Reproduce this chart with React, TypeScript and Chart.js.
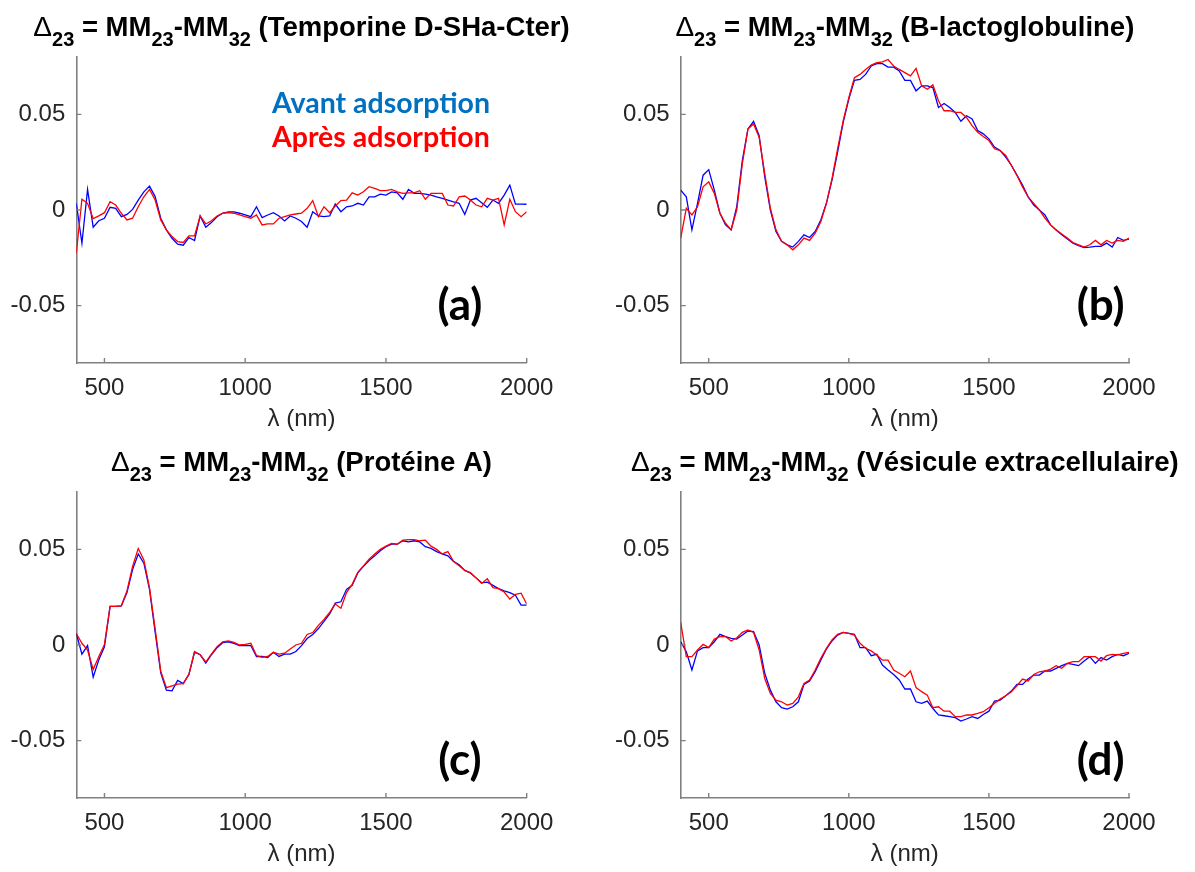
import React, { useEffect, useRef } from 'react';
import { Chart, registerables } from 'chart.js';

Chart.register(...registerables);

// ---------------- DATA ----------------
const WAVELENGTHS = [
  400, 420, 440, 460, 480, 500, 520, 540, 560, 580,
  600, 620, 640, 660, 680, 700, 720, 740, 760, 780,
  800, 820, 840, 860, 880, 900, 920, 940, 960, 980,
  1000, 1020, 1040, 1060, 1080, 1100, 1120, 1140, 1160, 1180,
  1200, 1220, 1240, 1260, 1280, 1300, 1320, 1340, 1360, 1380,
  1400, 1420, 1440, 1460, 1480, 1500, 1520, 1540, 1560, 1580,
  1600, 1620, 1640, 1660, 1680, 1700, 1720, 1740, 1760, 1780,
  1800, 1820, 1840, 1860, 1880, 1900, 1920, 1940, 1960, 1980,
  2000,
];

// (a) Temporine D-SHa-Cter
const A_AVANT = [
  0.0035, -0.0174, 0.0108, -0.009, -0.0056, -0.0043, 0.0014, 0.0009, -0.0035, -0.0023,
  0.0003, 0.0052, 0.0095, 0.0125, 0.007, -0.0043, -0.0104, -0.0148, -0.0179, -0.0184,
  -0.0144, -0.016, -0.0031, -0.009, -0.0066, -0.0035, -0.0017, -0.001, -0.001, -0.0017,
  -0.0026, -0.0035, 0.0017, -0.004, -0.0026, -0.0014, -0.0031, -0.0057, -0.0031, -0.0043,
  -0.006, -0.009, -0.0009, -0.0031, -0.0035, -0.0031, 0.0031, -0.0009, 0.0017, 0.0021,
  0.0035, 0.0026, 0.0069, 0.0069, 0.0083, 0.0078, 0.0095, 0.009, 0.0056, 0.0108,
  0.0087, 0.0087, 0.0083, 0.0078, 0.0069, 0.0061, 0.0052, 0.0043, 0.0035, -0.0023,
  0.0052, 0.0061, 0.0038, 0.0014, 0.0052, 0.0035, 0.0078, 0.013, 0.0031, 0.0031,
  0.003,
];
const A_APRES = [
  -0.0226, 0.0056, 0.0035, -0.0045, -0.0031, -0.0014, 0.0043, 0.0026, -0.0017, -0.0052,
  -0.0043, 0.0017, 0.0069, 0.0108, 0.0052, -0.0052, -0.0104, -0.0139, -0.0165, -0.017,
  -0.0135, -0.0135, -0.0031, -0.0073, -0.0056, -0.0031, -0.0017, -0.0014, -0.0017, -0.0026,
  -0.0035, -0.0043, -0.0026, -0.0078, -0.0073, -0.0073, -0.0043, -0.0035, -0.0026, -0.0021,
  -0.0017, 0.0009, 0.0049, -0.0035, 0.0017, -0.0014, 0.0021, 0.0049, 0.0052, 0.009,
  0.0078, 0.0095, 0.0122, 0.0113, 0.0101, 0.0101, 0.0108, 0.0095, 0.0087, 0.009,
  0.009, 0.0101, 0.0056, 0.0087, 0.0087, 0.0087, 0.0026, 0.0021, 0.0069, 0.0073,
  0.0052, 0.0026, 0.0017, 0.0061, 0.0052, 0.0061, -0.0078, 0.0056, -0.0009, -0.0035,
  -0.0009,
];

// (b) B-lactoglobuline
const B_AVANT = [
  0.0104, 0.0069, -0.0104, 0.0035, 0.0182, 0.0211, 0.0104, -0.0017, -0.0078, -0.0104,
  0.0017, 0.026, 0.0424, 0.0464, 0.0389, 0.0173, 0, -0.0112, -0.0164, -0.0182,
  -0.0194, -0.0164, -0.013, -0.0144, -0.0112, -0.0052, 0.0035, 0.0156, 0.0303, 0.0458,
  0.058, 0.0678, 0.0683, 0.0709, 0.0753, 0.0765, 0.0765, 0.0747, 0.0747, 0.0727,
  0.0678, 0.0678, 0.0623, 0.0649, 0.0649, 0.064, 0.0536, 0.0557, 0.0536, 0.051,
  0.0464, 0.0493, 0.0476, 0.0415, 0.0398, 0.0372, 0.0329, 0.0311, 0.0277, 0.0234,
  0.0182, 0.013, 0.0069, 0.0026, 0, -0.0026, -0.0078, -0.0104, -0.013, -0.0152,
  -0.0173, -0.0187, -0.0196, -0.0194, -0.019, -0.019, -0.0173, -0.0194, -0.0144, -0.0159,
  -0.0152,
];
const B_APRES = [
  -0.0147, 0.0009, -0.0026, 0.0017, 0.0121, 0.0147, 0.0087, -0.0017, -0.0069, -0.0104,
  0, 0.0242, 0.0424, 0.045, 0.038, 0.019, 0.0009, -0.0104, -0.0164, -0.0182,
  -0.0208, -0.0182, -0.0147, -0.0159, -0.0121, -0.0061, 0.0035, 0.0164, 0.032, 0.0467,
  0.0588, 0.0692, 0.0709, 0.0735, 0.0758, 0.077, 0.0775, 0.0787, 0.0753, 0.0735,
  0.0718, 0.0701, 0.074, 0.0649, 0.0631, 0.0654, 0.0571, 0.0519, 0.0519, 0.051,
  0.051, 0.0484, 0.0441, 0.0407, 0.0384, 0.0363, 0.032, 0.0311, 0.0285, 0.0234,
  0.0182, 0.0121, 0.0069, 0.0035, 0, -0.0043, -0.0078, -0.0104, -0.0125, -0.0147,
  -0.017, -0.0182, -0.0194, -0.0182, -0.0159, -0.0182, -0.0159, -0.0173, -0.0159, -0.0164,
  -0.0147,
];

// (c) Protéine A
const C_AVANT = [
  0.006, -0.0048, -0.0003, -0.0168, -0.0077, -0.0009, 0.0202, 0.0202, 0.0205, 0.0274,
  0.0394, 0.0476, 0.0428, 0.0291, 0.0068, -0.0146, -0.0236, -0.024, -0.0185, -0.0202,
  -0.0154, -0.0038, -0.0051, -0.0094, -0.0051, -0.0014, 0.0012, 0.0017, 0.0009, -0.0003,
  -0.0003, -0.0003, -0.006, -0.006, -0.0065, -0.0038, -0.006, -0.0048, -0.0048, -0.0034,
  -0.0003, 0.0034, 0.0055, 0.0086, 0.0123, 0.0163, 0.0219, 0.0226, 0.0291, 0.0312,
  0.0377, 0.0411, 0.0442, 0.0466, 0.0493, 0.0514, 0.0527, 0.0527, 0.0545, 0.0539,
  0.0545, 0.0539, 0.0514, 0.0505, 0.0488, 0.0476, 0.0466, 0.0437, 0.042, 0.039,
  0.0377, 0.0351, 0.0325, 0.0329, 0.0312, 0.0295, 0.0283, 0.0274, 0.026, 0.0209,
  0.0209,
];
const C_APRES = [
  0.006, 0.0009, -0.0026, -0.0128, -0.006, 0.0003, 0.0202, 0.0202, 0.0205, 0.0283,
  0.0411, 0.0505, 0.0445, 0.03, 0.0086, -0.0137, -0.0223, -0.0214, -0.0205, -0.0202,
  -0.0154, -0.0034, -0.0051, -0.0089, -0.0048, -0.0009, 0.0017, 0.0021, 0.0014, 0,
  0.0003, 0.0009, -0.0055, -0.0065, -0.006, -0.0038, -0.0048, -0.0043, -0.0021, 0,
  0.0009, 0.0055, 0.0065, 0.0103, 0.0134, 0.0171, 0.0214, 0.0192, 0.0274, 0.0317,
  0.038, 0.0414, 0.0449, 0.0476, 0.05, 0.0517, 0.0531, 0.0527, 0.0548, 0.0551,
  0.0551, 0.0545, 0.0548, 0.0517, 0.05, 0.0476, 0.0488, 0.0437, 0.0414, 0.039,
  0.0377, 0.0351, 0.0322, 0.0346, 0.03, 0.0295, 0.0277, 0.024, 0.0265, 0.0271,
  0.0214,
];

// (d) Vésicule extracellulaire
const D_AVANT = [
  0.0017, -0.0035, -0.0131, -0.0031, -0.0014, -0.0014, 0.0017, 0.0056, 0.0044, 0.0035,
  0.0031, 0.0052, 0.0073, 0.007, 0, -0.0148, -0.0236, -0.0297, -0.0328, -0.0335,
  -0.0323, -0.0297, -0.0206, -0.0188, -0.014, -0.0079, -0.0021, 0.0021, 0.0052, 0.0066,
  0.0061, 0.0056, -0.0014, -0.0014, -0.0056, -0.0049, -0.0105, -0.0131, -0.0154, -0.0183,
  -0.023, -0.023, -0.0297, -0.0305, -0.0293, -0.0332, -0.0366, -0.037, -0.0375, -0.038,
  -0.0398, -0.0387, -0.0375, -0.0384, -0.0363, -0.0346, -0.0293, -0.0288, -0.0265, -0.0241,
  -0.0206, -0.0206, -0.0178, -0.0157, -0.0157, -0.0136, -0.0136, -0.0122, -0.0108, -0.0096,
  -0.0101, -0.0108, -0.0084, -0.0061, -0.0096, -0.0066, -0.0079, -0.0061, -0.0049, -0.0056,
  -0.0044,
];
const D_APRES = [
  0.0119, -0.0061, -0.0061, -0.0026, 0.0003, -0.0014, 0.0031, 0.0044, 0.0044, 0.0021,
  0.0038, 0.0066, 0.0079, 0.0066, -0.0026, -0.0175, -0.0253, -0.0288, -0.0297, -0.0314,
  -0.0305, -0.0271, -0.0201, -0.0183, -0.0131, -0.007, -0.0017, 0.0026, 0.0056, 0.0066,
  0.0061, 0.0052, 0.0009, -0.0017, -0.0031, -0.0052, -0.0079, -0.0079, -0.0131, -0.0148,
  -0.0166, -0.0136, -0.0223, -0.0244, -0.0262, -0.0328, -0.0323, -0.0346, -0.0346, -0.0375,
  -0.0375, -0.0366, -0.0366, -0.0358, -0.0349, -0.0328, -0.0305, -0.0283, -0.0265, -0.0244,
  -0.0213, -0.0178, -0.0188, -0.0154, -0.014, -0.0136, -0.0126, -0.0108, -0.0122, -0.0096,
  -0.0087, -0.0087, -0.0061, -0.0061, -0.0061, -0.0084, -0.0056, -0.0049, -0.0052, -0.0044,
  -0.0038,
];

const SERIES_LABELS = ['Avant adsorption', 'Après adsorption'];
const SAMPLE_NAMES = ['Temporine D-SHa-Cter', 'B-lactoglobuline', 'Protéine A', 'Vésicule extracellulaire'];
const PANEL_TAGS = ['(a)', '(b)', '(c)', '(d)'];
const X_TICKS = [500, 1000, 1500, 2000];
const Y_TICKS = [-0.05, 0, 0.05];
const X_MIN = 400;
const X_MAX = 2000;
const Y_MIN = -0.08;
const Y_MAX = 0.08;
const X_LABEL = 'λ (nm)';

// ---------------- STYLE ----------------
const BLUE_LINE = '#0000FF';
const RED_LINE = '#FF0000';
const LEGEND_BLUE = '#0070C0';
const LEGEND_RED = '#FF0000';
const AXIS_COLOR = '#808080';
const TEXT_COLOR = '#262626';
const SANS = '"Liberation Sans", Arial, Helvetica, sans-serif';
const CALIBRI_LIKE = 'Lato, "Open Sans", sans-serif';

type Panel = {
  avant: number[];
  apres: number[];
  name: string;
  tag: string;
  left: number;
  top: number;
  w: number;
  h: number;
  area: { l: number; r: number; t: number; b: number };
  tagAt: [number, number];
  legend: boolean;
};

const PANELS: Panel[] = [
  { avant: A_AVANT, apres: A_APRES, name: SAMPLE_NAMES[0], tag: PANEL_TAGS[0], left: 0, top: 0, w: 598, h: 436,
    area: { l: 76.3, r: 526.7, t: 57, b: 363 }, tagAt: [1763, -0.05], legend: true },
  { avant: B_AVANT, apres: B_APRES, name: SAMPLE_NAMES[1], tag: PANEL_TAGS[1], left: 597, top: 0, w: 598, h: 436,
    area: { l: 83.7, r: 532, t: 57, b: 363 }, tagAt: [1899, -0.05], legend: false },
  { avant: C_AVANT, apres: C_APRES, name: SAMPLE_NAMES[2], tag: PANEL_TAGS[2], left: 0, top: 436, w: 598, h: 436,
    area: { l: 76.3, r: 526.7, t: 56, b: 362 }, tagAt: [1763, -0.0607], legend: false },
  { avant: D_AVANT, apres: D_APRES, name: SAMPLE_NAMES[3], tag: PANEL_TAGS[3], left: 597, top: 436, w: 598, h: 436,
    area: { l: 83.7, r: 532, t: 56, b: 362 }, tagAt: [1899, -0.0607], legend: false },
];

const decorPlugin = {
  id: 'decor',
  afterDraw(chart: any, _args: any, opts: any) {
    const { ctx, chartArea: ca, scales } = chart;
    const x = scales.x;
    const y = scales.y;
    ctx.save();

    // inward tick marks (MATLAB style)
    ctx.strokeStyle = AXIS_COLOR;
    ctx.lineWidth = 1.4;
    ctx.beginPath();
    x.ticks.forEach((t: any) => {
      const px = x.getPixelForValue(t.value);
      ctx.moveTo(px, ca.bottom);
      ctx.lineTo(px, ca.bottom - 5);
    });
    y.ticks.forEach((t: any) => {
      const py = y.getPixelForValue(t.value);
      ctx.moveTo(ca.left, py);
      ctx.lineTo(ca.left + 5, py);
    });
    ctx.stroke();

    // title with subscripts
    const parts: [string, string][] = [
      ['Δ', 'delta'], ['23', 'sub'], [' = MM', 'main'], ['23', 'sub'], ['-MM', 'main'], ['32', 'sub'],
      [' (' + opts.name + ')', 'main'],
    ];
    const fontFor = (k: string) =>
      k === 'sub' ? `bold 20px ${SANS}` : k === 'delta' ? `normal 28px ${SANS}` : `bold 27.5px ${SANS}`;
    let total = 0;
    const widths = parts.map(([t, k]) => {
      ctx.font = fontFor(k);
      const w = ctx.measureText(t).width;
      total += w;
      return w;
    });
    let cx = (ca.left + ca.right) / 2 - total / 2;
    const baseY = ca.top - 21;
    ctx.fillStyle = '#000000';
    ctx.textAlign = 'left';
    ctx.textBaseline = 'alphabetic';
    parts.forEach(([t, k], i) => {
      ctx.font = fontFor(k);
      ctx.fillText(t, cx, k === 'sub' ? baseY + 10 : baseY);
      cx += widths[i];
    });

    // x axis label
    ctx.font = `24px ${SANS}`;
    ctx.fillStyle = TEXT_COLOR;
    ctx.textAlign = 'center';
    ctx.textBaseline = 'middle';
    ctx.fillText(X_LABEL, (ca.left + ca.right) / 2, ca.bottom + 56);

    // panel tag
    ctx.font = `bold 44px ${CALIBRI_LIKE}`;
    ctx.fillStyle = '#000000';
    ctx.textAlign = 'center';
    ctx.textBaseline = 'middle';
    ctx.fillText(opts.tag, x.getPixelForValue(opts.tagAt[0]), y.getPixelForValue(opts.tagAt[1]));

    // coloured text legend
    if (opts.legend) {
      const ds = chart.data.datasets;
      ctx.textAlign = 'left';
      ctx.textBaseline = 'alphabetic';
      const lx = x.getPixelForValue(1095);
      const rows: [number, number][] = [[0, 0.0507], [1, 0.0329]];
      ctx.font = `bold 27px ${CALIBRI_LIKE}`;
      const w0 = ctx.measureText(ds[0].label).width;
      const size = (27 * 218) / w0;
      ctx.font = `bold ${size.toFixed(1)}px ${CALIBRI_LIKE}`;
      rows.forEach(([i, v]) => {
        ctx.fillStyle = ds[i].legendTextColor;
        ctx.fillText(ds[i].label, lx, y.getPixelForValue(v));
      });
    }
    ctx.restore();
  },
};

function PanelChart({ p }: { p: Panel }) {
  const ref = useRef<HTMLCanvasElement | null>(null);
  useEffect(() => {
    if (!ref.current) return;
    const chart = new Chart(ref.current, {
      type: 'line',
      data: {
        datasets: [
          {
            label: SERIES_LABELS[0],
            data: WAVELENGTHS.map((w, i) => ({ x: w, y: p.avant[i] })),
            borderColor: BLUE_LINE,
            borderWidth: 1.3,
            pointRadius: 0,
            tension: 0,
            order: 1,
            legendTextColor: LEGEND_BLUE,
          } as any,
          {
            label: SERIES_LABELS[1],
            data: WAVELENGTHS.map((w, i) => ({ x: w, y: p.apres[i] })),
            borderColor: RED_LINE,
            borderWidth: 1.3,
            pointRadius: 0,
            tension: 0,
            order: 0,
            legendTextColor: LEGEND_RED,
          } as any,
        ],
      },
      options: {
        animation: false,
        responsive: false,
        maintainAspectRatio: false,
        devicePixelRatio: 1,
        events: [],
        layout: { padding: { left: 0, top: p.area.t, right: p.w - p.area.r, bottom: 0 } },
        plugins: {
          legend: { display: false },
          title: { display: false },
          tooltip: { enabled: false },
          decor: { name: p.name, tag: p.tag, tagAt: p.tagAt, legend: p.legend },
        } as any,
        scales: {
          x: {
            type: 'linear',
            min: X_MIN,
            max: X_MAX,
            grid: { display: false, drawTicks: false },
            border: { display: true, color: AXIS_COLOR, width: 1.6 },
            ticks: {
              color: TEXT_COLOR,
              font: { family: SANS, size: 24 },
              padding: 11,
              autoSkip: false,
              maxRotation: 0,
              callback: (v: any) => String(v),
            },
            afterBuildTicks: (s: any) => {
              s.ticks = X_TICKS.map((v) => ({ value: v }));
            },
            afterFit: (s: any) => {
              s.height = p.h - p.area.b;
              s.paddingLeft = 0;
              s.paddingRight = 0;
            },
          },
          y: {
            type: 'linear',
            min: Y_MIN,
            max: Y_MAX,
            grid: { display: false, drawTicks: false },
            border: { display: true, color: AXIS_COLOR, width: 1.6 },
            ticks: {
              color: TEXT_COLOR,
              font: { family: SANS, size: 24 },
              padding: 11,
              autoSkip: false,
              callback: (v: any) => (v === 0 ? '0' : String(v)),
            },
            afterBuildTicks: (s: any) => {
              s.ticks = Y_TICKS.map((v) => ({ value: v }));
            },
            afterFit: (s: any) => {
              s.width = p.area.l;
              s.paddingTop = 0;
              s.paddingBottom = 0;
            },
          },
        },
      } as any,
      plugins: [decorPlugin],
    });
    return () => chart.destroy();
  }, [p]);
  return (
    <canvas
      ref={ref}
      width={p.w}
      height={p.h}
      style={{ position: 'absolute', left: p.left, top: p.top, width: p.w, height: p.h }}
    />
  );
}

export default function App() {
  return (
    <div style={{ position: 'absolute', left: 0, top: 0, width: 1195, height: 872, background: '#ffffff', overflow: 'hidden' }}>
      {PANELS.map((p, i) => (
        <PanelChart key={i} p={p} />
      ))}
    </div>
  );
}
